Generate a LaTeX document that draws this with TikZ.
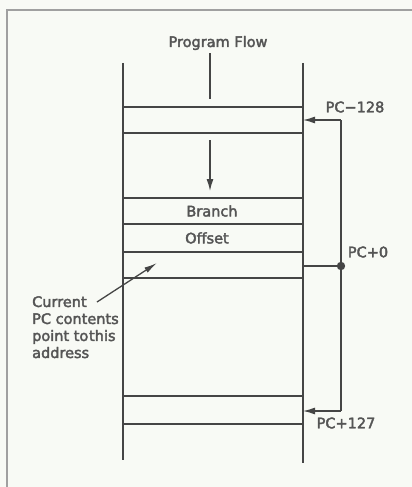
\documentclass[tikz,border=0pt]{standalone}
\usepackage{fontspec}
\setmainfont{DejaVu Sans}
\newfontfamily\lblfont{DejaVu Sans}[FakeBold=2.6]
\usetikzlibrary{arrows.meta}
\definecolor{bgc}{HTML}{F8FAF5}
\definecolor{ink}{HTML}{454545}
\definecolor{txt}{HTML}{555555}
\definecolor{framec}{HTML}{A0A0A0}
\tikzset{
  lbl/.style={font=\lblfont\fontsize{14.5}{17}\selectfont, text=txt, inner sep=0pt},
  mline/.style={draw=ink, line width=1.3pt},
  arr/.style={mline, -{Latex[length=12pt,width=7pt]}},
}
\begin{document}
\begin{tikzpicture}[x=1pt,y=-1pt]
\useasboundingbox[fill=bgc] (0,0) rectangle (412,487);
% frame
\draw[framec, line width=1.6pt] (7,487) -- (7,10) -- (412,10);
% memory column
\coordinate (lt) at (123,63); \coordinate (lb) at (123,460);
\coordinate (rt) at (303,63); \coordinate (rb) at (303,463);
\draw[mline] (lt) -- (lb);
\draw[mline] (rt) -- (rb);
\foreach \y in {107,133,198,224,252,278,396,424}
  \draw[mline] (123,\y) -- (303,\y);
% program flow
\node[lbl] (pf) at (218,43) {Program Flow};
\coordinate (pfe) at (210,99);
\draw[mline] (pf.south -| pfe) ++(0,3) -- (pfe);
\coordinate (fa) at (210,140); \coordinate (fb) at (210,191);
\draw[arr] (fa) -- (fb);
\node[lbl] (br) at (212,211) {Branch};
\node[lbl] (of) at (207,238) {Offset};
% PC bracket
\coordinate (m1) at (303,120);
\coordinate (m0) at (303,266);
\coordinate (m2) at (303,411);
\coordinate (c1) at (341,120);
\coordinate (c0) at (341,266);
\coordinate (c2) at (341,411);
\draw[mline] (c1) -- (c2);
\draw[arr] (c1) -- (m1);
\draw[arr] (c2) -- (m2);
\draw[mline] (m0) -- (c0);
\fill[ink] (c0) circle (4.2pt);
\node[lbl] (p128) at (355,107) {PC−128};
\node[lbl] (p0) at (368,252) {PC+0};
\node[lbl] (p127) at (346,423) {PC+127};
% annotation
\node[lbl, align=left, anchor=north west] (cur) at (32,296) {Current\\PC contents\\point to\hspace{0.05em}this\\address};
\coordinate (cp) at (157,263);
\draw[ink, line width=1.3pt, -{Latex[length=13pt,width=6pt]}] (97,302) -- (cp);
\end{tikzpicture}
\end{document}
